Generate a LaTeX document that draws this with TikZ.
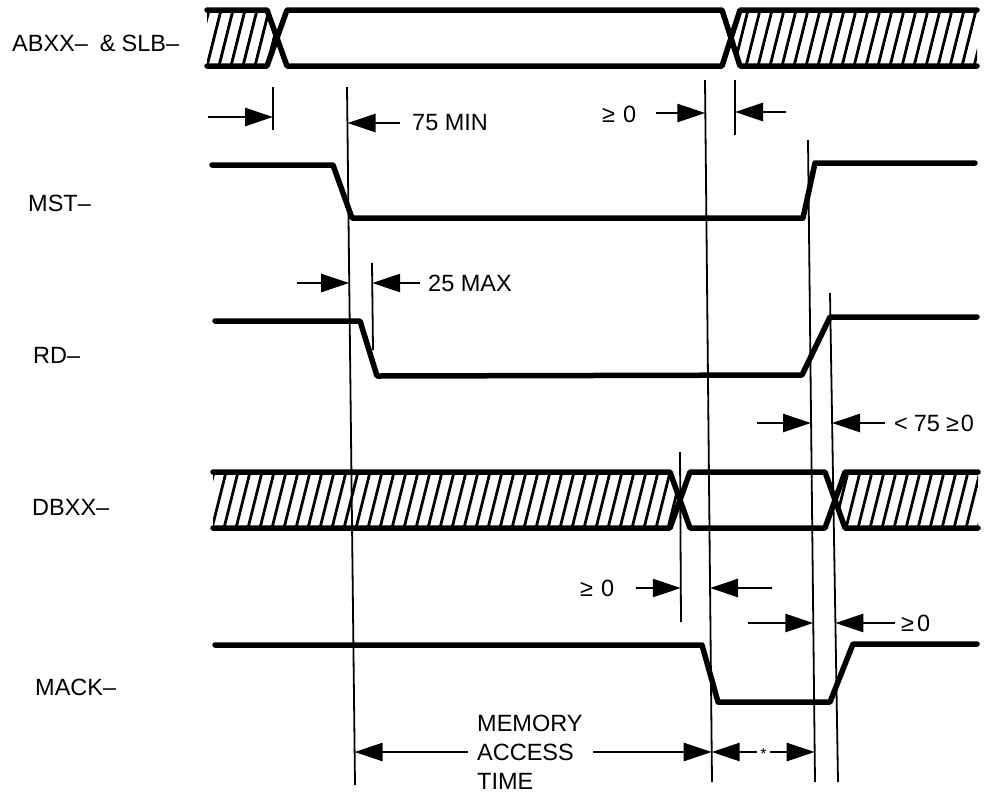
\documentclass[tikz,border=0pt]{standalone}
\usepackage{fontspec}
\setmainfont{Liberation Sans}
\usetikzlibrary{arrows.meta}
\begin{document}
\begin{tikzpicture}[x=1pt,y=-1pt,
  wave/.style={line width=5.5pt, line cap=round, line join=round},
  hatchline/.style={line width=2.8pt},
  refline/.style={line width=1.8pt},
  dimarrow/.style={line width=2.6pt, -{Triangle[length=28pt,width=18pt]}},
  lbl/.style={font=\fontsize{23.5}{29}\selectfont, inner sep=0pt, anchor=west},
]
\useasboundingbox (0,0) rectangle (984,793);

% ---------- signal names ----------
\node[lbl] (nAB)   at (12,43)  {ABXX–\kern12pt\&\kern6pt SLB–};
\node[lbl] (nMST)  at (28,203) {MST–};
\node[lbl] (nRD)   at (33,355) {RD–};
\node[lbl] (nDB)   at (32,507) {DBXX–};
\node[lbl] (nMACK) at (35,687) {MACK–};

% ---------- ABXX & SLB bus ----------
\begin{scope}
  \clip (207,10) -- (267,10) -- (277,38) -- (267,66) -- (207,66) -- cycle;
  \foreach \x in {195,207,...,280} \draw[hatchline] (\x,66) -- (\x+14,10);
\end{scope}
\begin{scope}
  \clip (731,38) -- (740,10) -- (977,10) -- (977,66) -- (740,66) -- cycle;
  \foreach \x in {722,734,...,980} \draw[hatchline] (\x,66) -- (\x+14,10);
\end{scope}
\draw[wave] (207,10) -- (267,10) -- (287,66) -- (722,66) -- (740,10) -- (977,10);
\draw[wave] (207,66) -- (267,66) -- (287,10) -- (722,10) -- (740,66) -- (977,66);

% ---------- MST ----------
\draw[wave] (212,165) -- (333,165) -- (352,218) -- (803,218) -- (815,163) -- (975,163);

% ---------- RD ----------
\draw[wave] (215,321) -- (360,321) -- (377,376) -- (802,375) -- (830,317) -- (977,317);

% ---------- DBXX bus ----------
\begin{scope}
  \clip (213,472) -- (670,472) -- (680,500) -- (670,528) -- (213,528) -- cycle;
  \foreach \x in {200,212,...,690} \draw[hatchline] (\x,528) -- (\x+14,472);
\end{scope}
\begin{scope}
  \clip (835,500) -- (845,472) -- (978,472) -- (978,528) -- (845,528) -- cycle;
  \foreach \x in {822,834,...,985} \draw[hatchline] (\x,528) -- (\x+14,472);
\end{scope}
\draw[wave] (213,472) -- (670,472) -- (690,528) -- (825,528) -- (845,472) -- (978,472);
\draw[wave] (213,528) -- (670,528) -- (690,472) -- (825,472) -- (845,528) -- (978,528);

% ---------- MACK ----------
\draw[wave] (215,645) -- (702,645) -- (718,702) -- (830,702) -- (853,644) -- (977,644);

% ---------- reference lines ----------
\coordinate (L1a) at (273,87);  \coordinate (L1b) at (273,130);
\coordinate (L2a) at (347,87);  \coordinate (L2b) at (355,785);
\coordinate (L3a) at (372,263); \coordinate (L3b) at (373,350);
\coordinate (L4a) at (705,80);  \coordinate (L4b) at (712,782);
\coordinate (L5a) at (735,80);  \coordinate (L5b) at (735,135);
\coordinate (L6a) at (808,140); \coordinate (L6b) at (815,782);
\coordinate (L7a) at (830,293); \coordinate (L7b) at (838,782);
\coordinate (L8a) at (680,452); \coordinate (L8b) at (681,622);
\foreach \n in {1,...,8} \draw[refline] (L\n a) -- (L\n b);

% ---------- dimension arrows ----------
\coordinate (t1) at (273,117);   \coordinate (s1) at (208,117);
\coordinate (t2) at (347.5,123); \coordinate (s2) at (400,123);
\coordinate (t3) at (705.3,113); \coordinate (s3) at (656,113);
\coordinate (t4) at (735,112);   \coordinate (s4) at (786,112);
\coordinate (t5) at (349.2,283); \coordinate (s5) at (297,283);
\coordinate (t6) at (372.2,283); \coordinate (s6) at (420,283);
\coordinate (t7) at (811,423);   \coordinate (s7) at (757,423);
\coordinate (t8) at (832,423);   \coordinate (s8) at (885,423);
\coordinate (t9) at (680.8,588); \coordinate (s9) at (636,588);
\coordinate (t10) at (710,588);  \coordinate (s10) at (772,588);
\coordinate (t11) at (813.3,623);\coordinate (s11) at (748,623);
\coordinate (t12) at (835.4,623);\coordinate (s12) at (895,623);
\coordinate (t13) at (354.6,752);\coordinate (s13) at (468,752);
\coordinate (t14) at (711.7,752);\coordinate (s14) at (593,752);
\coordinate (t15) at (711.7,752);\coordinate (s15) at (757,752);
\coordinate (t16) at (814.7,752);\coordinate (s16) at (770,752);
\foreach \n in {1,...,16} \draw[dimarrow] (s\n) -- (t\n);

% ---------- dimension labels ----------
\node[lbl] (d75)  at (412,123) {75 MIN};
\node[lbl] (dge1) at (602,114) {≥\kern8pt 0};
\node[lbl] (d25)  at (428,283) {25 MAX};
\node[lbl] (d75b) at (894,423) {<\kern6pt 75\kern6pt ≥\kern2pt 0};
\node[lbl] (dge2) at (580,588) {≥\kern8pt 0};
\node[lbl] (dge3) at (901,623) {≥\kern3pt 0};
\node[lbl, align=left] (dmat) at (477,752) {MEMORY\\ACCESS\\TIME};
\node[inner sep=0pt, font=\fontsize{16}{16}\selectfont] (dstar) at (763.5,754) {*};
\end{tikzpicture}
\end{document}
